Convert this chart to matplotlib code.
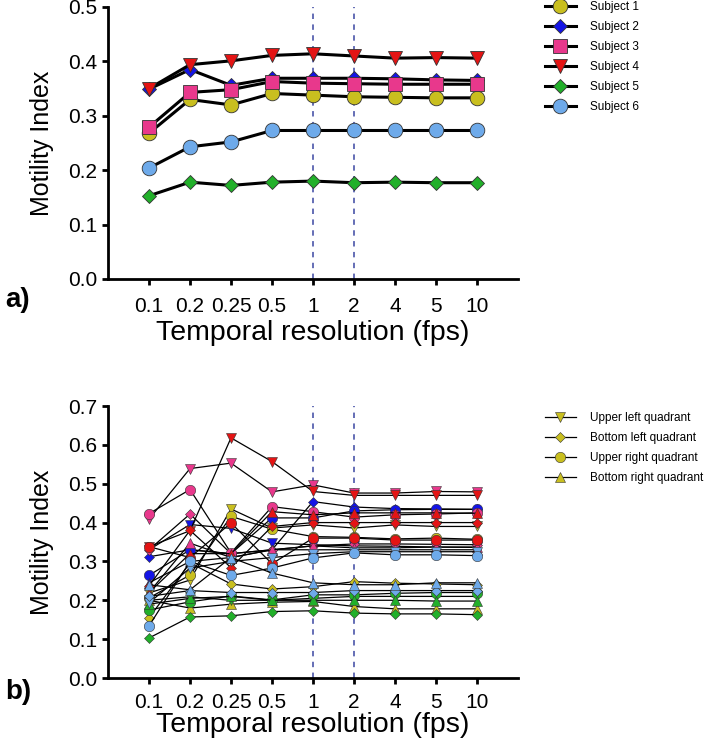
import matplotlib
matplotlib.use("Agg")
import matplotlib.pyplot as plt
from matplotlib.lines import Line2D

plt.rcParams["font.family"] = ["Liberation Sans", "DejaVu Sans"]

# ── data ────────────────────────────────────────────────────────────────
fps_labels = ["0.1", "0.2", "0.25", "0.5", "1", "2", "4", "5", "10"]
dashed_at = ["1", "2"]

subjects = ["Subject 1", "Subject 2", "Subject 3", "Subject 4", "Subject 5", "Subject 6"]
subject_colors = ["#c9bf1f", "#1414e6", "#e8388c", "#e41414", "#22b02a", "#6eaaea"]
subject_markers = ["o", "D", "s", "v", "D", "o"]
subject_ms = [10.5, 7, 9.5, 10, 7, 10.5]

# panel a: whole-image motility index per subject
mi_s1 = [0.268, 0.330, 0.320, 0.341, 0.338, 0.335, 0.334, 0.333, 0.333]
mi_s2 = [0.349, 0.385, 0.356, 0.369, 0.369, 0.369, 0.368, 0.366, 0.365]
mi_s3 = [0.279, 0.343, 0.348, 0.363, 0.360, 0.359, 0.358, 0.358, 0.358]
mi_s4 = [0.350, 0.394, 0.401, 0.411, 0.414, 0.410, 0.406, 0.407, 0.406]
mi_s5 = [0.153, 0.178, 0.172, 0.178, 0.180, 0.177, 0.178, 0.177, 0.177]
mi_s6 = [0.204, 0.243, 0.252, 0.273, 0.273, 0.273, 0.273, 0.273, 0.273]
panel_a = [mi_s1, mi_s2, mi_s3, mi_s4, mi_s5, mi_s6]

# panel b: per quadrant (UL, BL, UR, BR) for each subject
quadrants = ["Upper left quadrant", "Bottom left quadrant",
             "Upper right quadrant", "Bottom right quadrant"]
quad_markers = ["v", "D", "o", "^"]
quad_ms = [7, 4.8, 7.5, 7]

q_s1 = [[0.219, 0.252, 0.435, 0.386, 0.394, 0.386, 0.394, 0.390, 0.390],
        [0.155, 0.296, 0.242, 0.229, 0.235, 0.248, 0.244, 0.242, 0.240],
        [0.206, 0.265, 0.416, 0.383, 0.364, 0.362, 0.358, 0.360, 0.357],
        [0.200, 0.180, 0.190, 0.195, 0.197, 0.184, 0.178, 0.178, 0.178]]
q_s2 = [[0.330, 0.395, 0.385, 0.347, 0.343, 0.340, 0.339, 0.337, 0.336],
        [0.312, 0.330, 0.320, 0.330, 0.454, 0.440, 0.436, 0.435, 0.434],
        [0.264, 0.330, 0.320, 0.412, 0.412, 0.430, 0.433, 0.434, 0.434],
        [0.245, 0.300, 0.310, 0.330, 0.330, 0.330, 0.330, 0.330, 0.330]]
q_s3 = [[0.409, 0.539, 0.553, 0.479, 0.497, 0.476, 0.476, 0.480, 0.479],
        [0.330, 0.422, 0.320, 0.330, 0.340, 0.345, 0.345, 0.344, 0.343],
        [0.423, 0.485, 0.322, 0.441, 0.428, 0.414, 0.420, 0.422, 0.425],
        [0.220, 0.347, 0.310, 0.330, 0.340, 0.335, 0.335, 0.337, 0.337]]
q_s4 = [[0.338, 0.379, 0.618, 0.557, 0.480, 0.470, 0.470, 0.470, 0.470],
        [0.237, 0.380, 0.284, 0.390, 0.400, 0.400, 0.400, 0.400, 0.400],
        [0.338, 0.310, 0.399, 0.294, 0.360, 0.360, 0.355, 0.355, 0.355],
        [0.220, 0.320, 0.320, 0.428, 0.420, 0.425, 0.425, 0.425, 0.424]]
q_s5 = [[0.200, 0.209, 0.200, 0.200, 0.205, 0.210, 0.210, 0.210, 0.210],
        [0.103, 0.157, 0.160, 0.171, 0.173, 0.167, 0.165, 0.165, 0.163],
        [0.175, 0.196, 0.211, 0.201, 0.214, 0.214, 0.218, 0.220, 0.220],
        [0.190, 0.205, 0.210, 0.200, 0.200, 0.200, 0.200, 0.198, 0.198]]
q_s6 = [[0.193, 0.283, 0.300, 0.310, 0.320, 0.325, 0.325, 0.325, 0.325],
        [0.210, 0.225, 0.220, 0.220, 0.220, 0.225, 0.225, 0.225, 0.225],
        [0.134, 0.300, 0.264, 0.283, 0.309, 0.322, 0.317, 0.317, 0.315],
        [0.240, 0.227, 0.310, 0.270, 0.245, 0.240, 0.240, 0.245, 0.245]]
panel_b = [q_s1, q_s2, q_s3, q_s4, q_s5, q_s6]

DASH = "#5862b0"
EDGE = "#333333"

fig = plt.figure(figsize=(7.08, 7.43), dpi=100)
ax_a = fig.add_axes([108 / 708, 1 - 279 / 743, 410 / 708, 272 / 743])
ax_b = fig.add_axes([108 / 708, 1 - 678 / 743, 410 / 708, 272 / 743])

x = list(range(len(fps_labels)))


def style_axes(ax, ymax, tickpad, labpad):
    ax.set_xlim(-1, 9)
    ax.set_ylim(0, ymax)
    for s in ("top", "right"):
        ax.spines[s].set_visible(False)
    for s in ("left", "bottom"):
        ax.spines[s].set_linewidth(2.0)
    ax.set_xticks(x)
    ax.set_xticklabels(fps_labels)
    ax.set_yticks([round(v * 0.1, 1) for v in range(int(round(ymax * 10)) + 1)])
    ax.yaxis.set_major_formatter(matplotlib.ticker.FormatStrFormatter("%.1f"))
    ax.tick_params(direction="out", length=4, width=2.0, labelsize=15)
    ax.tick_params(axis="x", pad=tickpad)
    ax.set_ylabel("Motility Index", fontsize=18, labelpad=10)
    ax.set_xlabel("Temporal resolution (fps)", fontsize=20.5, labelpad=labpad)
    for lab in dashed_at:
        xi = fps_labels.index(lab)
        ax.plot([xi, xi], [0, ymax], color=DASH, lw=1.3, ls=(0, (3, 3)), zorder=1)


# ── panel a ────────────────────────────────────────────────────────────
for vals, col, mk, ms in zip(panel_a, subject_colors, subject_markers, subject_ms):
    ax_a.plot(x, vals, color="black", lw=2.2, marker=mk, ms=ms,
              mfc=col, mec=EDGE, mew=0.6, zorder=3)
style_axes(ax_a, 0.5, 9, 3)

handles_a = [Line2D([], [], color="black", lw=2.2, marker=mk, ms=ms, mfc=col,
                    mec=EDGE, mew=0.6)
             for col, mk, ms in zip(subject_colors, subject_markers, subject_ms)]
fig.legend(handles_a, subjects, loc="upper left", bbox_to_anchor=(545 / 708, 1 - 1 / 743),
           frameon=False, fontsize=8.5, handlelength=2.6, handletextpad=1.2,
           labelspacing=0.68, borderpad=0, borderaxespad=0)

# ── panel b ────────────────────────────────────────────────────────────
for quads, col in zip(panel_b, subject_colors):
    for vals, mk, ms in zip(quads, quad_markers, quad_ms):
        ax_b.plot(x, vals, color="black", lw=0.9, marker=mk, ms=ms,
                  mfc=col, mec=EDGE, mew=0.4, zorder=3)
style_axes(ax_b, 0.7, 7, 0)

handles_b = [Line2D([], [], color="black", lw=0.9, marker=mk, ms=ms,
                    mfc=subject_colors[0], mec=EDGE, mew=0.4)
             for mk, ms in zip(quad_markers, quad_ms)]
fig.legend(handles_b, quadrants, loc="upper left", bbox_to_anchor=(545 / 708, 1 - 412 / 743),
           frameon=False, fontsize=8.5, handlelength=2.6, handletextpad=1.2,
           labelspacing=0.68, borderpad=0, borderaxespad=0)

fig.text(5 / 708, 1 - 300 / 743, "a)", fontsize=20, fontweight="bold", va="center")
fig.text(5 / 708, 1 - 692 / 743, "b)", fontsize=20, fontweight="bold", va="center")

fig.savefig("out.png", dpi=100)
